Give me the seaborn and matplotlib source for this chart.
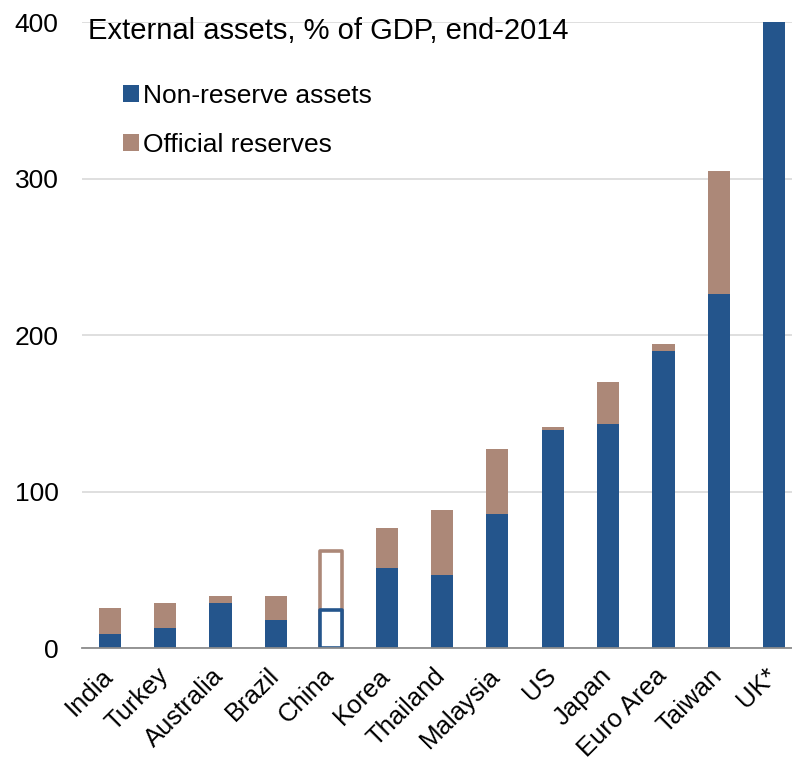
import matplotlib
matplotlib.use("Agg")
import matplotlib.pyplot as plt
import matplotlib.transforms as mtransforms
import seaborn as sns
import pandas as pd
from matplotlib.patches import Patch
from matplotlib.ticker import FixedLocator

countries = ["India", "Turkey", "Australia", "Brazil", "China", "Korea", "Thailand",
             "Malaysia", "US", "Japan", "Euro Area", "Taiwan", "UK*"]
non_reserve = [9, 13, 29, 18, 24, 51, 46.5, 85.5, 139, 143, 189.5, 226, 520]
reserves = [16.5, 15.5, 4, 15, 38, 25.5, 41.5, 41.5, 2.5, 27, 5, 79, 5]

BLUE = "#24558C"
BROWN = "#AC8878"

df = pd.DataFrame({"country": countries,
                   "non_reserve": non_reserve,
                   "total": [a + b for a, b in zip(non_reserve, reserves)]})

sns.set_theme(style="white")
plt.rcParams["font.family"] = ["Liberation Sans", "DejaVu Sans"]

fig = plt.figure(figsize=(7.92, 7.62), dpi=100)
ax = fig.add_axes([82 / 792, 114 / 762, 720 / 792, 626 / 762])

# stacked bars: total (reserves on top) drawn first, non-reserve over it
sns.barplot(data=df, x="country", y="total", color=BROWN, width=0.4,
            saturation=1, linewidth=0, edgecolor="none", ax=ax, zorder=2)
sns.barplot(data=df, x="country", y="non_reserve", color=BLUE, width=0.4,
            saturation=1, linewidth=0, edgecolor="none", ax=ax, zorder=3)

n = len(countries)
china = countries.index("China")
# China shown as outline only
for i, p in enumerate(ax.patches):
    if i % n == china:
        col = BROWN if i < n else BLUE
        p.set_facecolor("white")
        p.set_edgecolor(col)
        p.set_linewidth(2.6)
        p.set_joinstyle("round")

ax.set_ylim(0, 400)
ax.set_xlim(-0.5, n - 0.5)
ax.set_yticks([0, 100, 200, 300, 400])
ax.yaxis.grid(True, color="#D9D9D9", linewidth=1.2)
ax.set_axisbelow(True)
ax.set_xlabel("")
ax.set_ylabel("")

for s in ["top", "right", "left"]:
    ax.spines[s].set_visible(False)
ax.spines["bottom"].set_color("#8C8C8C")
ax.spines["bottom"].set_linewidth(1.3)
ax.spines["bottom"].set_zorder(4)

ax.tick_params(axis="y", length=0, pad=17, labelsize=19, labelcolor="black")
ax.tick_params(axis="x", which="major", length=0, pad=4, labelsize=18.5, labelcolor="black")
ax.xaxis.set_minor_locator(FixedLocator([i - 0.5 for i in range(n + 1)]))
ax.tick_params(axis="x", which="minor", length=7, width=1.3, color="#8C8C8C", direction="out")
shift = mtransforms.ScaledTranslation(-9 / 100, -10 / 100, fig.dpi_scale_trans)
for lab in ax.get_xticklabels():
    lab.set_rotation(45)
    lab.set_ha("right")
    lab.set_rotation_mode("anchor")
    lab.set_transform(lab.get_transform() + shift)

fig.text(88 / 792, 1 - 31 / 762, "External assets, % of GDP, end-2014",
         fontsize=21, va="center", ha="left", color="black")

handles = [Patch(facecolor=BLUE, edgecolor="none", label="Non-reserve assets"),
           Patch(facecolor=BROWN, edgecolor="none", label="Official reserves")]
leg = fig.legend(handles=handles, loc="upper left", bbox_to_anchor=(123 / 792, 1 - 84 / 762),
                 frameon=False, fontsize=19, handlelength=0.62, handleheight=0.62,
                 handletextpad=0.15, labelspacing=0.95, borderpad=0, borderaxespad=0)
for t in leg.get_texts():
    t.set_color("black")

fig.savefig("out.png", dpi=100)
